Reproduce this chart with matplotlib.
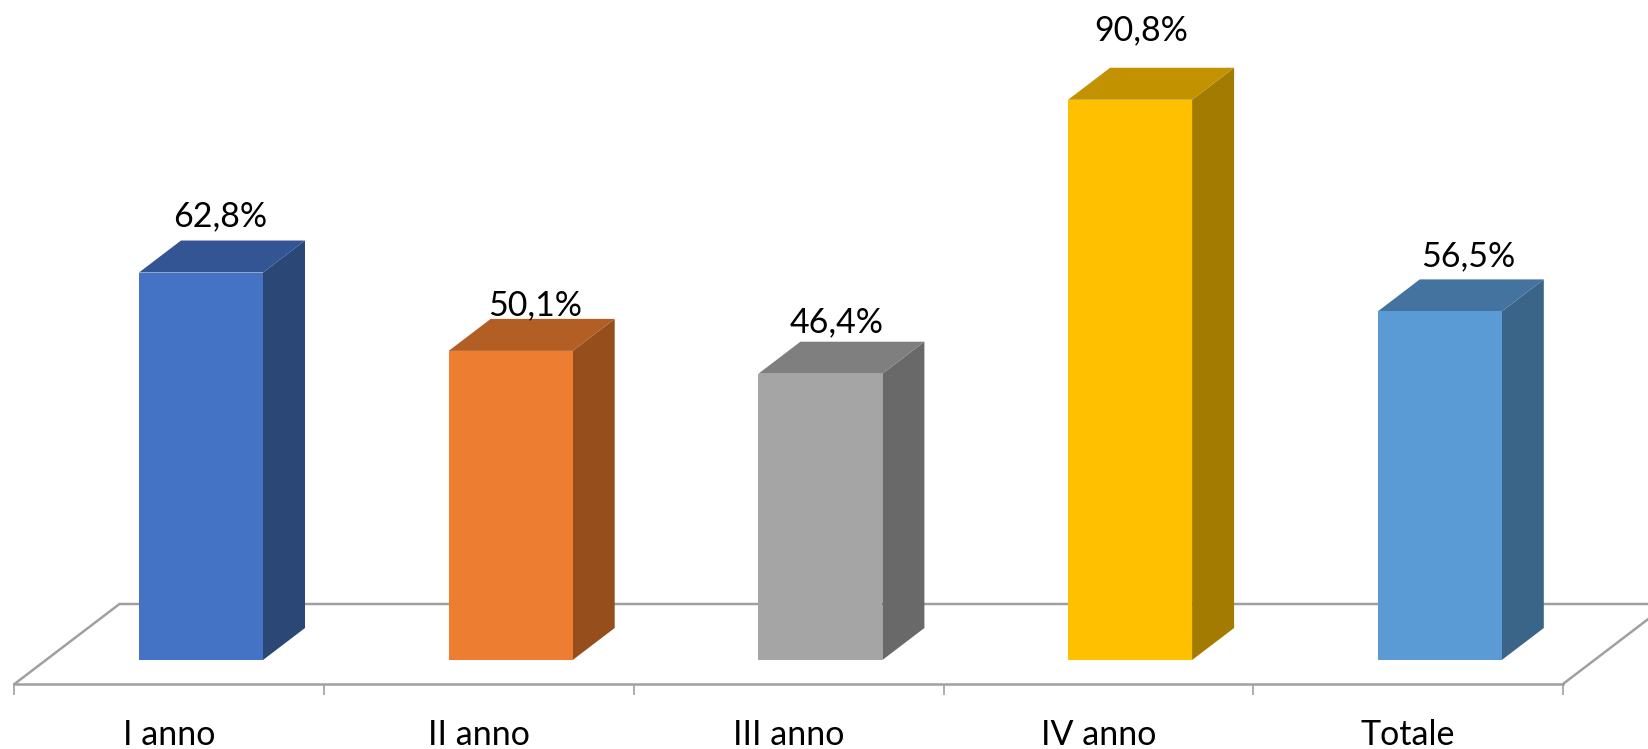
"""Pseudo-3D column chart: percentages per year of course."""
import matplotlib
matplotlib.use('Agg')
import matplotlib.pyplot as plt
from matplotlib.patches import Polygon

categories = ['I anno', 'II anno', 'III anno', 'IV anno', 'Totale']
values = [62.8, 50.1, 46.4, 90.8, 56.5]
value_labels = ['62,8%', '50,1%', '46,4%', '90,8%', '56,5%']

front_colors = ['#4472C4', '#ED7D31', '#A5A5A5', '#FFC000', '#5B9BD5']
side_colors = ['#2A4776', '#964F1C', '#696969', '#A37B00', '#3A6488']
top_colors = ['#335593', '#B25E24', '#7F7F7F', '#C29200', '#4473A0']

# hand-placed label offsets from the bar centre top, in pixels
label_dx = [19, 24, 16, 11, 28]
label_dy = [56, 46, 51, 69, 55]

W, H = 1649, 749
CAT_W = 309.7          # px per category
UNIT = 6.17            # px per percentage point
X0 = 169.3             # px of first category centre
Y0 = 660               # px of value zero

BAR_W = 124 / CAT_W
BAR_SHIFT = 31.7 / CAT_W
DX = 42 / CAT_W
DY = 32 / UNIT
FLOOR_FRONT = (Y0 - 684) / UNIT
FLOOR_BACK = (Y0 - 604) / UNIT
FLOOR_SKEW = 105 / CAT_W
GREY = '#A0A0A0'

fig = plt.figure(figsize=(W / 100, H / 100), dpi=100, facecolor='white')
ax = fig.add_axes([0, 0, 1, 1])
ax.set_xlim(-X0 / CAT_W, (W - X0) / CAT_W)
ax.set_ylim((Y0 - H) / UNIT, Y0 / UNIT)
ax.patch.set_visible(False)
for name in ['top', 'left', 'right']:
    ax.spines[name].set_visible(False)

# ===== Floor =====
left = -0.5
right = len(categories) - 0.5
ax.spines['bottom'].set_position(('data', FLOOR_FRONT))
ax.spines['bottom'].set_bounds(left, right)
ax.spines['bottom'].set_color(GREY)
ax.spines['bottom'].set_linewidth(1.8)
ax.plot([left, left + FLOOR_SKEW, right + FLOOR_SKEW, right],
        [FLOOR_FRONT, FLOOR_BACK, FLOOR_BACK, FLOOR_FRONT],
        color=GREY, lw=1.8, zorder=1, solid_joinstyle='miter')

ax.set_xticks(range(len(categories)), categories)
ax.set_xticks([left + i for i in range(len(categories) + 1)], minor=True)
ax.set_yticks([])
ax.tick_params(axis='x', which='major', length=0, pad=25, labelsize=24.5,
               labelfontfamily='Lato', labelcolor='black')
ax.tick_params(axis='x', which='minor', length=8, width=1.2, color=GREY)

# ===== Bars =====
for i, val in enumerate(values):
    x = i + BAR_SHIFT
    x1 = x - BAR_W / 2
    x2 = x + BAR_W / 2
    ax.bar(x, val, width=BAR_W, color=front_colors[i], zorder=3)
    ax.add_patch(Polygon([(x2, 0), (x2 + DX, DY), (x2 + DX, val + DY), (x2, val)],
                         closed=True, facecolor=side_colors[i], edgecolor='none', zorder=2))
    ax.add_patch(Polygon([(x1, val), (x1 + DX, val + DY), (x2 + DX, val + DY), (x2, val)],
                         closed=True, facecolor=top_colors[i], edgecolor='none', zorder=2))
    ax.annotate(value_labels[i], xy=(x, val),
                xytext=(label_dx[i], label_dy[i]), textcoords='offset pixels',
                ha='center', va='center', fontsize=24.5, family='Lato',
                color='black', zorder=4)

fig.savefig('out.png', dpi=100, facecolor='white')
